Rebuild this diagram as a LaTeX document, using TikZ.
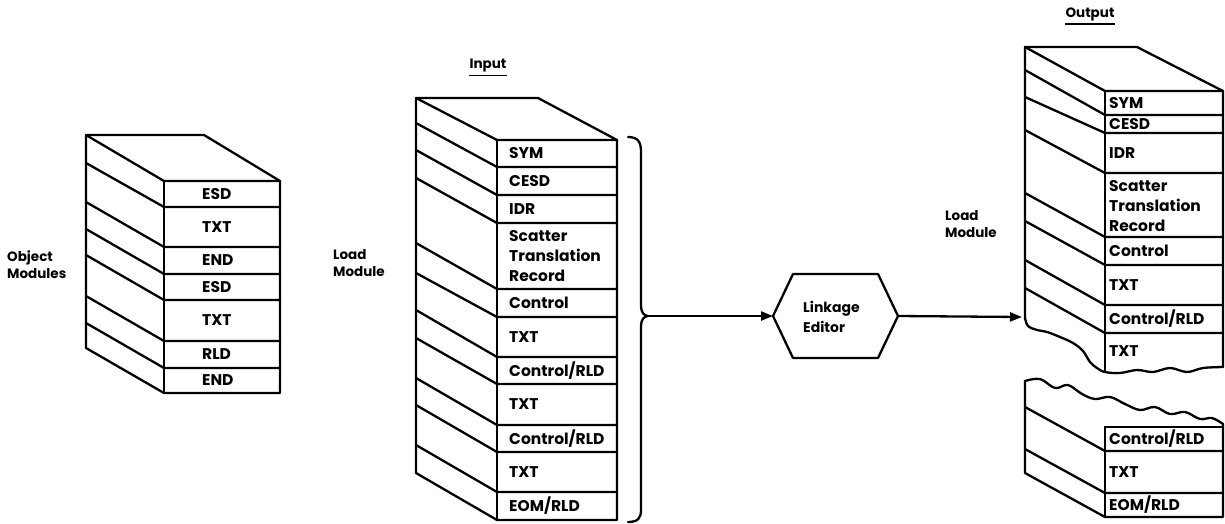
\documentclass[tikz,border=0pt]{standalone}
\usepackage{fontspec}
\setmainfont{Poppins}
\usetikzlibrary{arrows.meta}
\begin{document}
\begin{tikzpicture}[x=1pt,y=-1pt,
  ln/.style={line width=2.3pt, line join=round, line cap=round},
  cell/.style={anchor=west, inner sep=0pt, font=\bfseries\fontsize{15.5}{20}\selectfont, align=left},
  lbltext/.style={anchor=west, inner sep=0pt, font=\bfseries\fontsize{13.5}{17}\selectfont, align=left},
  arr/.style={ln, -{Triangle[length=12pt,width=9pt]}}
]
\useasboundingbox (0,0) rectangle (1225,523);

% ---------- Object modules stack ----------
\draw[ln] (86,135) -- (204,135) -- (280,181) -- (280,393) -- (164,393) -- (86,348) -- cycle;
\draw[ln] (86,135) -- (164,181) -- (280,181);
\draw[ln] (164,181) -- (164,393);
\foreach \b/\f in {163/207,202/247,229/274,255/300,296/341,323/368}
  \draw[ln] (86,\b) -- (164,\f) -- (280,\f);
\node[cell] (o1) at (202,194) {ESD};
\node[cell] (o2) at (202,227) {TXT};
\node[cell] (o3) at (202,260.5) {END};
\node[cell] (o4) at (202,287) {ESD};
\node[cell] (o5) at (202,320.5) {TXT};
\node[cell] (o6) at (202,354.5) {RLD};
\node[cell] (o7) at (202,380.5) {END};
\node[lbltext] (objlbl) at (7,265) {Object\\Modules};

% ---------- Input load module ----------
\draw[ln] (416,98) -- (538,98) -- (617,140) -- (617,520) -- (497,520) -- (416,473) -- cycle;
\draw[ln] (416,98) -- (497,140) -- (617,140);
\draw[ln] (497,140) -- (497,520);
\foreach \b/\f in {123/167,150/195,178/223,243/289,273/317,310/357,338/384,378/425,405/452,445/492}
  \draw[ln] (416,\b) -- (497,\f) -- (617,\f);
\node[cell] (m1) at (509,153.5) {SYM};
\node[cell] (m2) at (509,181) {CESD};
\node[cell] (m3) at (509,209) {IDR};
\node[cell] (m4) at (509,256) {Scatter\\Translation\\Record};
\node[cell] (m5) at (509,303) {Control};
\node[cell] (m6) at (509,337) {TXT};
\node[cell] (m7) at (509,370.5) {Control/RLD};
\node[cell] (m8) at (509,404.5) {TXT};
\node[cell] (m9) at (509,438.5) {Control/RLD};
\node[cell] (m10) at (509,472) {TXT};
\node[cell] (m11) at (509,506) {EOM/RLD};
\node[lbltext] (loadL) at (333,263) {Load\\Module};
\node[lbltext, anchor=center] (inlbl) at (488,66) {Input};
\draw[line width=1.4pt] ([yshift=-3pt]inlbl.south west) -- ([yshift=-3pt]inlbl.south east);

% ---------- brace ----------
\coordinate (brtip) at (648,316);
\draw[ln] (628,137) .. controls (638,137) and (641,142) .. (641,152) -- (641,306)
  .. controls (641,312) and (644,316) .. (brtip)
  .. controls (644,316) and (641,320) .. (641,326) -- (641,510)
  .. controls (641,518) and (638,522) .. (628,522);

% ---------- Linkage editor ----------
\coordinate (hL) at (773,316);
\coordinate (hR) at (898,316);
\draw[ln] (hL) -- (793,274) -- (878,274) -- (hR) -- (878,358) -- (793,358) -- cycle;
\node[cell, font=\bfseries\fontsize{14}{20}\selectfont] (le) at (803,317) {Linkage\\Editor};
\draw[arr] (brtip) -- (hL);

% ---------- Output load module (upper part) ----------
\coordinate (outL) at (1022,317);
\draw[arr] (hR) -- (outL);
\draw[ln] (1025,318) -- (1025,47) -- (1137,47) -- (1223,91) -- (1223,367);
\draw[ln] (1025,47) -- (1105,91) -- (1223,91);
\draw[ln] (1105,91) -- (1105,372);
\foreach \b/\f in {70/115,97/133,130/173,193/237,221/265,260/305,288/333}
  \draw[ln] (1025,\b) -- (1105,\f) -- (1223,\f);
\draw[ln] plot[smooth, tension=0.6] coordinates {(1025,318) (1028,326) (1037,330) (1047,332) (1060,337) (1073,343) (1083,351) (1090,362) (1097,368) (1105,372) (1120,373) (1137,370) (1153,372) (1170,368) (1187,372) (1203,368) (1223,367)};
\node[cell] (u1) at (1109,103) {SYM};
\node[cell] (u2) at (1109,124) {CESD};
\node[cell] (u3) at (1109,153) {IDR};
\node[cell] (u4) at (1109,206) {Scatter\\Translation\\Record};
\node[cell] (u5) at (1109,251) {Control};
\node[cell] (u6) at (1109,285) {TXT};
\node[cell] (u7) at (1109,319) {Control/RLD};
\node[cell] (u8) at (1109,351) {TXT};
\node[lbltext] (loadR) at (945,224) {Load\\Module};
\node[lbltext, anchor=center] (outlbl) at (1090,14) {Output};
\draw[line width=1.4pt] ([yshift=-3pt]outlbl.south west) -- ([yshift=-3pt]outlbl.south east);

% ---------- Output load module (lower part) ----------
\draw[ln] plot[smooth, tension=0.6] coordinates {(1025,381) (1040,379) (1055,388) (1068,385) (1082,394) (1095,399) (1110,397) (1125,404) (1140,410) (1155,407) (1170,414) (1185,412) (1200,419) (1212,418) (1223,424)};
\draw[ln] (1025,381) -- (1025,473) -- (1105,517) -- (1223,517) -- (1223,424);
\draw[ln] (1105,427) -- (1223,427);
\draw[ln] (1105,427) -- (1105,517);
\foreach \b/\f in {407/451,449/493}
  \draw[ln] (1025,\b) -- (1105,\f) -- (1223,\f);
\node[cell] (l1) at (1109,439) {Control/RLD};
\node[cell] (l2) at (1109,472) {TXT};
\node[cell] (l3) at (1109,505) {EOM/RLD};
\end{tikzpicture}
\end{document}
